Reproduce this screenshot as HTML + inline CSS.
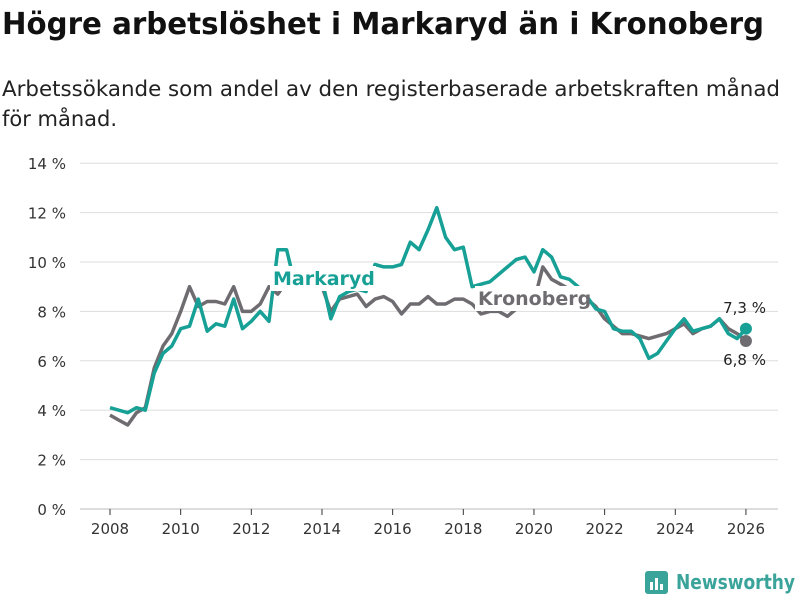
<!DOCTYPE html>
<html><head><meta charset="utf-8"><style>
body{margin:0;background:#fff;width:800px;height:600px;overflow:hidden;font-family:"Liberation Sans","DejaVu Sans",sans-serif}
</style></head><body>
<svg width="800" height="600">
<text x="2" y="34" font-size="30" font-weight="bold" fill="#111" font-family="DejaVu Sans, sans-serif" textLength="762" lengthAdjust="spacingAndGlyphs">Högre arbetslöshet i Markaryd än i Kronoberg</text>
<text x="2" y="96" font-size="21" fill="#222" font-family="DejaVu Sans, sans-serif" textLength="778" lengthAdjust="spacingAndGlyphs">Arbetssökande som andel av den registerbaserade arbetskraften månad</text>
<text x="2" y="126" font-size="21" fill="#222" font-family="DejaVu Sans, sans-serif">för månad.</text>
<g id="grid"></g><g id="xax"></g><g id="lines"></g><g id="labels"></g>
<g>
<rect x="645" y="571" width="23" height="23" rx="3" fill="#3aa39a"/>
<rect x="650" y="582" width="3" height="8" fill="#fff"/><rect x="655" y="578" width="3" height="12" fill="#fff"/><rect x="660" y="584" width="3" height="6" fill="#fff"/>
<text x="676" y="589" font-size="20" font-weight="bold" fill="#3aa39a" font-family="DejaVu Sans, sans-serif" textLength="119" lengthAdjust="spacingAndGlyphs">Newsworthy</text>
</g>
</svg>
<script>
const yTicks=[0,2,4,6,8,10,12,14];
const xTicks=[2008,2010,2012,2014,2016,2018,2020,2022,2024,2026];
const startYear=2008;
const markaryd=[4.1,4.0,3.9,4.1, 4.0,5.5,6.3,6.6, 7.3,7.4,8.5,7.2, 7.5,7.4,8.5,7.3, 7.6,8.0,7.6,10.5, 10.5,9.0,9.0,8.9, 9.3,7.7,8.6,8.8, 8.9,8.8,9.9,9.8, 9.8,9.9,10.8,10.5, 11.3,12.2,11.0,10.5, 10.6,9.0,9.1,9.2, 9.5,9.8,10.1,10.2, 9.6,10.5,10.2,9.4, 9.3,9.0,8.6,8.1, 8.0,7.3,7.2,7.2, 6.9,6.1,6.3,6.8, 7.3,7.7,7.2,7.3, 7.4,7.7,7.1,6.9, 7.3];
const kronoberg=[3.8,3.6,3.4,3.9, 4.1,5.7,6.6,7.1, 8.0,9.0,8.2,8.4, 8.4,8.3,9.0,8.0, 8.0,8.3,9.0,8.7, 9.2,9.3,9.0,9.0, 9.0,8.0,8.5,8.6, 8.7,8.2,8.5,8.6, 8.4,7.9,8.3,8.3, 8.6,8.3,8.3,8.5, 8.5,8.3,7.9,8.0, 8.0,7.8,8.1,8.4, 8.4,9.8,9.3,9.1, 8.9,8.7,8.5,8.2, 7.7,7.4,7.1,7.1, 7.0,6.9,7.0,7.1, 7.3,7.5,7.1,7.3, 7.4,7.7,7.3,7.1, 6.8];
const ns="http://www.w3.org/2000/svg";
const X=t=>110+(t-2008)*35.33, Y=v=>509-v*24.7;
function mk(tag,a,p){const e=document.createElementNS(ns,tag);for(const k in a)e.setAttribute(k,a[k]);p.appendChild(e);return e;}
const g=document.getElementById('grid');
yTicks.forEach(v=>{const l=mk('line',{x1:80,x2:778,y1:Y(v),y2:Y(v),stroke:v==0?'#bbb':'#ddd','stroke-width':1},g);


const t=mk('text',{x:66,y:Y(v)+6,'text-anchor':'end','font-size':15,fill:'#333','font-family':'DejaVu Sans, sans-serif'},g);t.textContent=v+' %';

});
const xa=document.getElementById('xax');
xTicks.forEach(v=>{const l=mk('line',{x1:X(v),x2:X(v),y1:509,y2:515,stroke:'#333'},xa);


const t=mk('text',{x:X(v),y:534,'text-anchor':'middle','font-size':15,fill:'#333','font-family':'DejaVu Sans, sans-serif'},xa);t.textContent=v;

});
const L=document.getElementById('lines');
function line(d,c,n){const p=mk('path',{d:d.map((v,i)=>(i?'L':'M')+X(startYear+i/4).toFixed(1)+','+Y(v).toFixed(1)).join(''),fill:'none',stroke:c,'stroke-width':3.5,'stroke-linejoin':'round'},L);


const i=d.length-1;const c2=mk('circle',{cx:X(startYear+i/4),cy:Y(d[i]),r:6,fill:c},L);

}
line(kronoberg,'#6e6c70','kronoberg');
line(markaryd,'#17a095','markaryd');
const lb=document.getElementById('labels');
function lab(x,y,txt,c,n,w){const r=mk('rect',{x:x-3,y:y-19,width:w,height:25,fill:'#fff'},lb);


const t=mk('text',{x:x,y:y,'font-size':19,'font-weight':'bold',fill:c,'font-family':'DejaVu Sans, sans-serif'},lb);t.textContent=txt;

}
lab(273,285,'Markaryd','#17a095','markaryd-label',106);
lab(478,305,'Kronoberg','#6e6c70','kronoberg-label',114);
function end(y,txt,n){const t=mk('text',{x:766,y:y,'text-anchor':'end','font-size':15,fill:'#222','font-family':'DejaVu Sans, sans-serif'},lb);t.textContent=txt;

}
end(313,'7,3 %','markaryd-end-value');end(365,'6,8 %','kronoberg-end-value');
</script>
</body></html>
